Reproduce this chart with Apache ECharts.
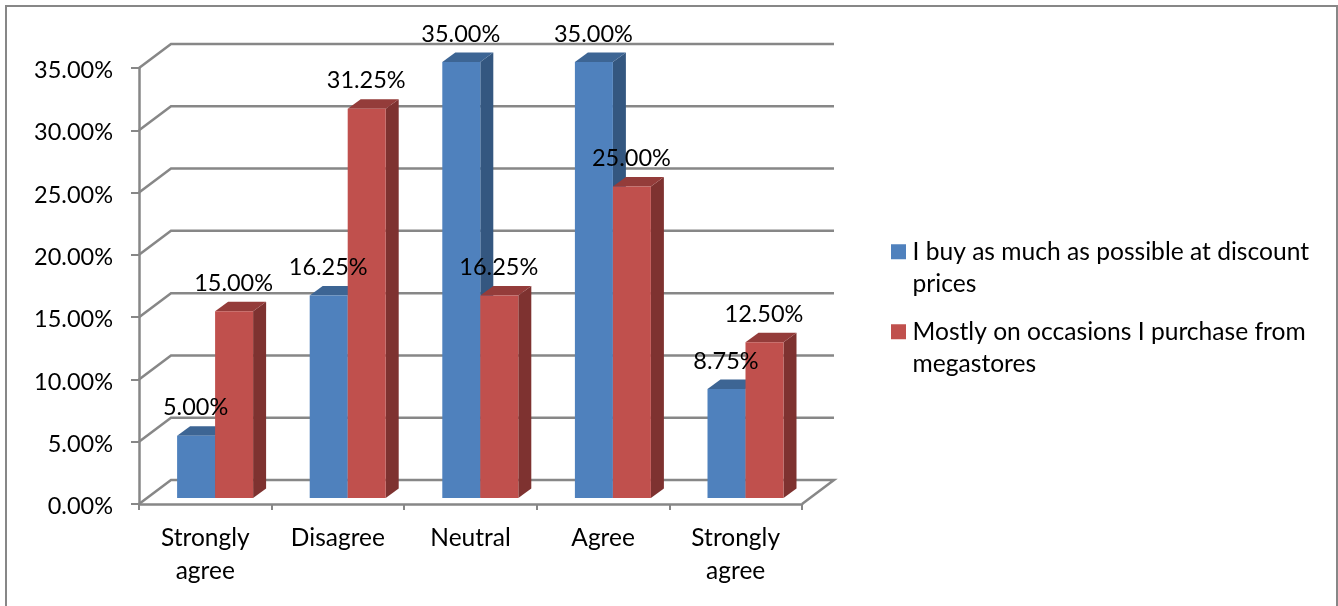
<!DOCTYPE html>
<html>
<head>
<meta charset="utf-8">
<style>html,body{margin:0;padding:0;background:#fff}#chart{width:1338px;height:606px}</style>
<script src="https://cdn.jsdelivr.net/npm/echarts@6/dist/echarts.min.js"></script>
</head>
<body>
<div id="chart"></div>
<script>
const categories = ['Strongly agree', 'Disagree', 'Neutral', 'Agree', 'Strongly agree'];
const discountName = 'I buy as much as possible at discount prices';
const megastoreName = 'Mostly on occasions I purchase from megastores';
const discountValues = [5.00, 16.25, 35.00, 35.00, 8.75];
const megastoreValues = [15.00, 31.25, 16.25, 25.00, 12.50];
const yTicks = [0, 5, 10, 15, 20, 25, 30, 35];

const FONT = 'Lato, "Open Sans", sans-serif';
const AXIS_GREY = '#878787';
const LINE_W = 2.5;

// Depth of the box behind the axes, and of each bar within it
const WALL_DX = 32, WALL_DY = 24;
const BAR_DX = 13, BAR_DY = 9.5;
const BAR_W = 38, BASE_LIFT = 6, GROUP_SHIFT = 9.8;

const barShades = {
  blue: { front: '#4F81BD', top: '#3D6594', side: '#345780' },
  red: { front: '#C0504D', top: '#943C3A', side: '#7E3230' }
};

// Back-wall gridline with its slanted return to the value axis
function renderWall(params, api) {
  const v = api.value(1);
  const first = api.coord([0, v]);
  const band = api.size([1, 0])[0];
  const x0 = first[0] - band / 2;
  const x1 = x0 + band * categories.length;
  const y = first[1];
  const pts = [[x0, y], [x0 + WALL_DX, y - WALL_DY], [x1 + WALL_DX, y - WALL_DY]];
  if (v === 0) pts.push([x1, y]);
  return {
    type: 'polyline',
    shape: { points: pts },
    style: { stroke: AXIS_GREY, lineWidth: LINE_W, fill: null }
  };
}

// One extruded bar: front face, top face and right side face
function barRenderer(shade, slot) {
  return function (params, api) {
    const cat = api.value(0);
    const val = api.value(1);
    const centre = api.coord([cat, 0])[0];
    const base = api.coord([cat, 0])[1] - BASE_LIFT;
    const top = api.coord([cat, val])[1] - BASE_LIFT;
    const l = centre + GROUP_SHIFT + slot * BAR_W;
    const r = l + BAR_W;
    return {
      type: 'group',
      children: [
        { type: 'polygon', shape: { points: [[r, top], [r + BAR_DX, top - BAR_DY], [r + BAR_DX, base - BAR_DY], [r, base]] }, style: { fill: shade.side } },
        { type: 'polygon', shape: { points: [[l, top], [l + BAR_DX, top - BAR_DY], [r + BAR_DX, top - BAR_DY], [r, top]] }, style: { fill: shade.top } },
        { type: 'rect', shape: { x: l, y: top, width: BAR_W, height: base - top }, style: { fill: shade.front } }
      ]
    };
  };
}

// Value label floating above the bar's top face
function labelRenderer(slot) {
  return function (params, api) {
    const cat = api.value(0);
    const val = api.value(1);
    const p = api.coord([cat, val]);
    return {
      type: 'text',
      x: p[0] + GROUP_SHIFT + slot * BAR_W + BAR_W / 2 - 0.5,
      y: p[1] - BASE_LIFT - 28,
      style: {
        text: val.toFixed(2) + '%',
        font: '23.5px ' + FONT,
        fill: '#000',
        align: 'center',
        verticalAlign: 'middle'
      }
    };
  };
}

const pairs = arr => arr.map((v, i) => [i, v]);

const chart = echarts.init(document.getElementById('chart'), null, { renderer: 'canvas' });
chart.setOption({
  animation: false,
  backgroundColor: '#fff',
  graphic: [{
    type: 'rect',
    silent: true,
    shape: { x: 6, y: 6, width: 1331, height: 620 },
    style: { fill: null, stroke: AXIS_GREY, lineWidth: 2 },
    z: -1
  }],
  grid: { left: 139, top: 68, width: 663, height: 436, containLabel: false },
  xAxis: {
    type: 'category',
    data: categories,
    axisLine: { lineStyle: { color: AXIS_GREY, width: LINE_W } },
    axisTick: { show: true, length: 6, lineStyle: { color: AXIS_GREY, width: 2 } },
    axisLabel: {
      interval: 0,
      margin: 18,
      color: '#000',
      fontFamily: FONT,
      fontSize: 24.5,
      lineHeight: 33,
      formatter: s => s.replace(' ', '\n')
    }
  },
  yAxis: {
    type: 'value',
    min: 0,
    max: 35,
    interval: 5,
    axisLine: { show: true, lineStyle: { color: AXIS_GREY, width: LINE_W } },
    axisTick: { show: true, length: 8, lineStyle: { color: AXIS_GREY, width: 2 } },
    splitLine: { show: false },
    axisLabel: {
      margin: 26,
      color: '#000',
      rich: { tick: { fontFamily: FONT, fontSize: 23.5, color: '#000', padding: [5, 0, 0, 0] } },
      formatter: v => '{tick|' + v.toFixed(2) + '%}'
    }
  },
  legend: {
    orient: 'vertical',
    left: 891,
    top: 203,
    padding: 0,
    itemWidth: 15,
    itemHeight: 15,
    itemGap: -17.5,
    icon: 'rect',
    data: [discountName, megastoreName],
    textStyle: { color: '#000', fontFamily: FONT, fontSize: 24.6, lineHeight: 32.5, padding: [0, 0, 0, 1.5] },
    formatter: name => name === discountName
      ? '\nI buy as much as possible at discount\nprices'
      : '\nMostly on occasions I purchase from\nmegastores'
  },
  series: [
    {
      type: 'custom', name: 'walls', z: 1, silent: true,
      renderItem: renderWall,
      encode: { x: 0, y: 1 },
      data: yTicks.map(v => [0, v])
    },
    {
      type: 'custom', name: discountName, z: 3, silent: true,
      itemStyle: { color: barShades.blue.front },
      renderItem: barRenderer(barShades.blue, -1),
      encode: { x: 0, y: 1 },
      data: pairs(discountValues)
    },
    {
      type: 'custom', name: megastoreName, z: 4, silent: true,
      itemStyle: { color: barShades.red.front },
      renderItem: barRenderer(barShades.red, 0),
      encode: { x: 0, y: 1 },
      data: pairs(megastoreValues)
    },
    {
      type: 'custom', name: 'discount labels', z: 5, silent: true,
      renderItem: labelRenderer(-1),
      encode: { x: 0, y: 1 },
      data: pairs(discountValues)
    },
    {
      type: 'custom', name: 'megastore labels', z: 5, silent: true,
      renderItem: labelRenderer(0),
      encode: { x: 0, y: 1 },
      data: pairs(megastoreValues)
    }
  ]
});
</script>
</body>
</html>
